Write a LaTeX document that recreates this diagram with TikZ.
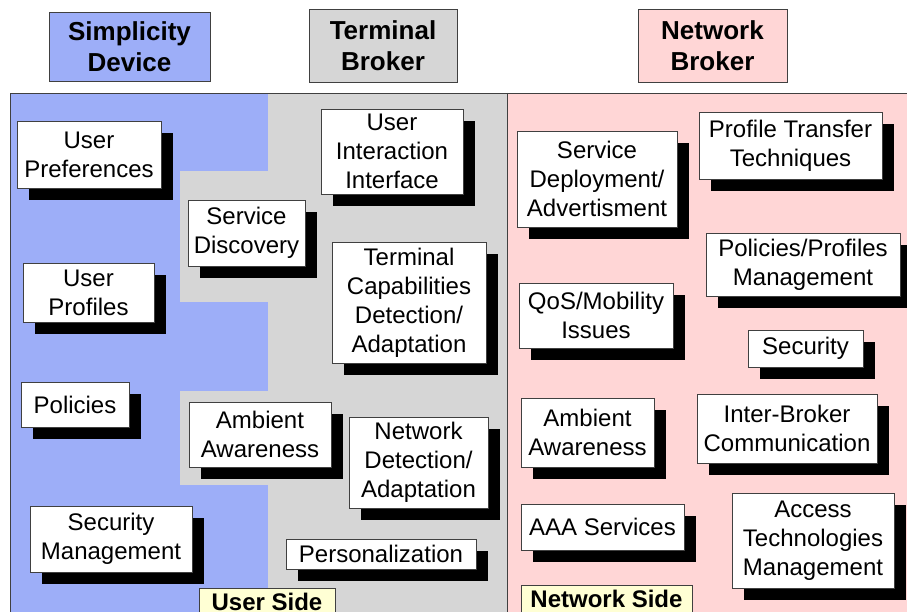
\documentclass[tikz,border=0pt]{standalone}
\usepackage{fontspec}
\setmainfont{Liberation Sans}
\usetikzlibrary{shadows}
\definecolor{simblue}{RGB}{157,174,248}
\definecolor{termgray}{RGB}{214,214,214}
\definecolor{netpink}{RGB}{255,214,214}
\definecolor{sideyellow}{RGB}{255,255,212}

\begin{document}
\begin{tikzpicture}[x=1pt, y=-1pt,
  item/.style={draw=black!75, fill=white, line width=0.8pt, align=center, inner sep=0pt,
    font=\fontsize{24}{29}\selectfont,
    general shadow={fill=black, shadow xshift=12pt, shadow yshift=-12pt}},
  header/.style={draw=black!75, line width=0.8pt, align=center, inner sep=0pt,
    font=\fontsize{26}{31}\selectfont\bfseries},
  sidelabel/.style={draw=black!75, fill=sideyellow, line width=0.8pt, inner sep=0pt,
    minimum height=28pt, font=\fontsize{24}{29}\selectfont\bfseries}]
\useasboundingbox (0,0) rectangle (907,612);

\fill[simblue] (10,93) rectangle (268,620);
\fill[termgray] (268,93) rectangle (507,620);
\fill[termgray] (180,171) rectangle (268,302);
\fill[termgray] (180,391) rectangle (268,485);
\fill[netpink] (507,93) rectangle (912,620);
\draw[black!75, line width=0.8pt] (10,620) -- (10,93) -- (912,93);
\draw[black!75, line width=0.8pt] (507,93) -- (507,620);

\node[header, fill=simblue, minimum width=161pt, minimum height=69pt] (hsd) at (129.5,46.5) {Simplicity\\Device};
\node[header, fill=termgray, minimum width=148pt, minimum height=73pt] (htb) at (383,45.5) {Terminal\\Broker};
\node[header, fill=netpink, minimum width=149pt, minimum height=73pt] (hnb) at (712.5,45.5) {Network\\Broker};

\node[item, minimum width=144pt, minimum height=67pt] (upref) at (89,154.5) {User\\Preferences};
\node[item, minimum width=131pt, minimum height=59pt] (uprof) at (88.5,292.5) {User\\Profiles};
\node[item, minimum width=108pt, minimum height=45pt] (pol) at (75,404.5) {Policies};
\node[item, minimum width=162pt, minimum height=66pt] (secm) at (111,539) {Security\\Management};

\node[item, minimum width=142pt, minimum height=85pt] (uii) at (392,151.5) {User\\Interaction\\Interface};
\node[item, minimum width=117pt, minimum height=66pt] (sdisc) at (246.5,233) {Service\\Discovery};
\node[item, minimum width=154pt, minimum height=121pt] (tcap) at (409,302.5) {Terminal\\Capabilities\\Detection/\\Adaptation};
\node[item, minimum width=142pt, minimum height=65pt] (ambt) at (260,434.5) {Ambient\\Awareness};
\node[item, minimum width=139pt, minimum height=91pt] (ndet) at (418.5,462.5) {Network\\Detection/\\Adaptation};
\node[item, minimum width=190pt, minimum height=30pt] (pers) at (381,554) {Personalization};

\node[item, minimum width=160pt, minimum height=96pt] (sdep) at (597,179) {Service\\Deployment/\\Advertisment};
\node[item, minimum width=183pt, minimum height=67pt] (ptt) at (790.5,145.5) {Profile Transfer\\Techniques};
\node[item, minimum width=194pt, minimum height=63pt] (ppm) at (803,264.5) {Policies/Profiles\\Management};
\node[item, minimum width=154pt, minimum height=65pt] (qos) at (596,315.5) {QoS/Mobility\\Issues};
\node[item, minimum width=115pt, minimum height=37pt] (sec) at (805.5,348.5) {Security};
\node[item, minimum width=133pt, minimum height=69pt] (ambn) at (587.5,432.5) {Ambient\\Awareness};
\node[item, minimum width=180pt, minimum height=69pt] (ibc) at (787,428.5) {Inter-Broker\\Communication};
\node[item, minimum width=163pt, minimum height=46pt] (aaa) at (602.5,527) {AAA Services};
\node[item, minimum width=162pt, minimum height=95pt] (atm) at (813,540.5) {Access\\Technologies\\Management};

\node[sidelabel, minimum width=136pt] (uside) at (267,602) {User Side};
\node[sidelabel, minimum width=171pt] (nside) at (606.5,599) {Network Side};
\end{tikzpicture}
\end{document}
